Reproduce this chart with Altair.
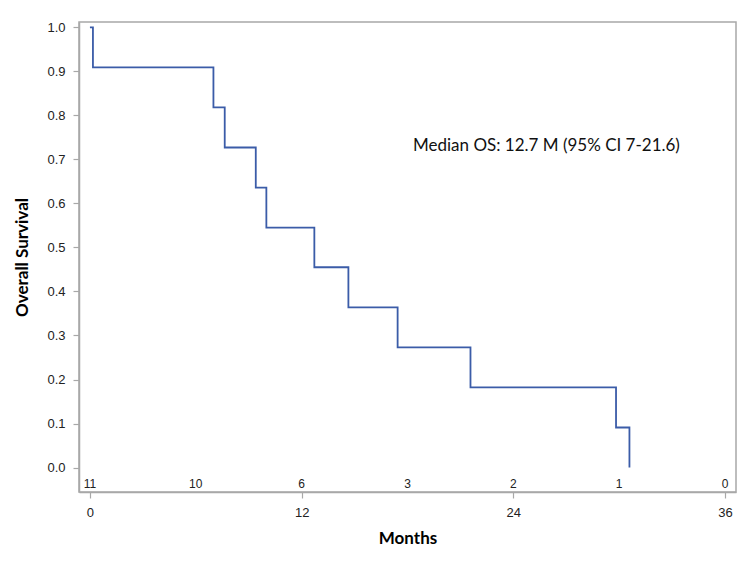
import altair as alt
import pandas as pd

# Kaplan-Meier step points (months, survival probability)
times = [0.0, 0.17, 7.0, 7.64, 9.4, 10.0, 12.72, 14.65, 17.44, 21.57, 29.82, 30.58]
survival = [1.0, 0.909, 0.818, 0.727, 0.636, 0.545, 0.455, 0.364, 0.273, 0.182, 0.091, 0.0]

# Numbers at risk
risk_times = [0, 6, 12, 18, 24, 30, 36]
risk_counts = [11, 10, 6, 3, 2, 1, 0]

x_ticks = [0, 12, 24, 36]
y_ticks = [0.0, 0.1, 0.2, 0.3, 0.4, 0.5, 0.6, 0.7, 0.8, 0.9, 1.0]

annotation = "Median OS: 12.7 M (95% CI 7-21.6)"

surv_df = pd.DataFrame({"Months": times, "Survival": survival})
risk_df = pd.DataFrame({"Months": risk_times, "AtRisk": [str(c) for c in risk_counts]})
note_df = pd.DataFrame({"label": [annotation]})

GRAY = "#a8a8a8"
TICKFONT = "Liberation Sans"
TITLEFONT = "Lato"

x_scale = alt.Scale(domain=[-0.62, 36.62], nice=False, zero=False)
y_scale = alt.Scale(domain=[-0.0555, 1.012], nice=False, zero=False)

line = alt.Chart(surv_df).mark_line(
    interpolate="step-after", color="#3b5ca8", strokeWidth=1.8
).encode(
    x=alt.X("Months:Q", scale=x_scale,
            axis=alt.Axis(values=x_ticks, title="Months", format="d",
                          titleY=46, titleBaseline="middle", labelPadding=8)),
    y=alt.Y("Survival:Q", scale=y_scale,
            axis=alt.Axis(values=y_ticks, title="Overall Survival", format=".1f",
                          titleX=-57, titleBaseline="middle", labelPadding=8)),
)

risk = alt.Chart(risk_df).mark_text(
    font=TICKFONT, fontSize=12, color="#222222", baseline="middle"
).encode(
    x=alt.X("Months:Q", scale=x_scale),
    y=alt.value(462),
    text="AtRisk:N",
)

note = alt.Chart(note_df).mark_text(
    font=TITLEFONT, fontSize=17, color="#111111", align="left", baseline="middle"
).encode(
    x=alt.value(334),
    y=alt.value(124),
    text="label:N",
)

chart = alt.layer(line, risk, note).properties(
    width=657,
    height=470,
    autosize=alt.AutoSizeParams(type="none"),
    padding={"left": 71, "top": 14, "right": 6, "bottom": 63},
).configure_view(
    stroke=GRAY, strokeWidth=1.5
).configure_axis(
    grid=False,
    domainColor=GRAY,
    domainWidth=1.5,
    tickColor=GRAY,
    tickSize=6,
    tickWidth=1.2,
    labelFont=TICKFONT,
    labelFontSize=13,
    labelColor="#222222",
    titleFont=TITLEFONT,
    titleFontSize=17,
    titleFontWeight="bold",
    titleColor="#000000",
)

chart.save("out.html", embed_options={"renderer": "svg", "actions": False})
